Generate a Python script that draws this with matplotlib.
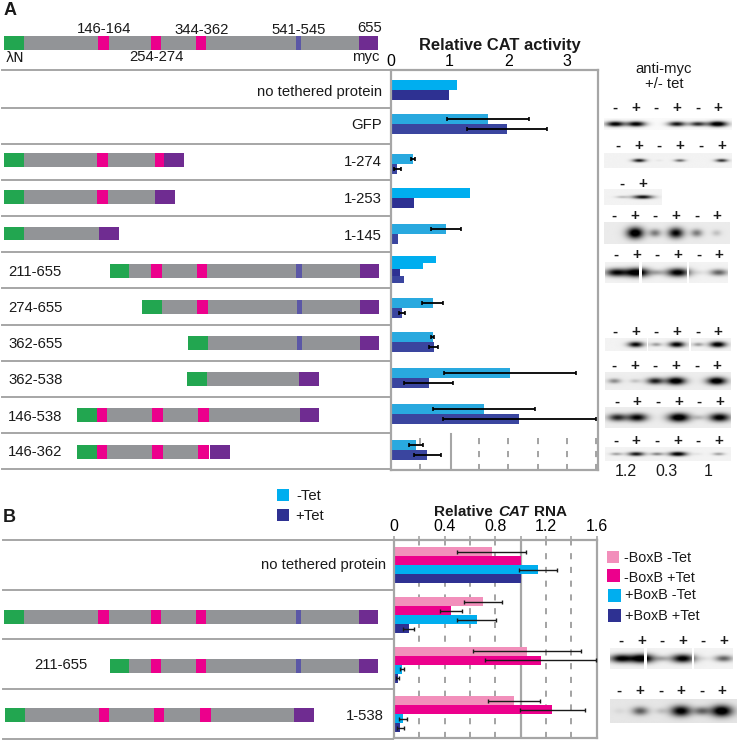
import numpy as np
import matplotlib
matplotlib.use("Agg")
import matplotlib.pyplot as plt
from matplotlib.patches import Rectangle

plt.rcParams['font.family'] = ['Liberation Sans', 'DejaVu Sans']

# panel A data, one value per row (-Tet / +Tet)
a_minus = [1.12, 1.66, 0.375, 1.35, 0.94, 0.71, 0.71, 2.03, 1.59, 0.43]
a_plus = [0.99, 1.98, 0.11, 0.39, 0.12, 0.19, 0.73, 0.64, 2.19, 0.62]
a_minus_err = [0, 0.70, 0.03, 0, 0.26, 0.18, 0.026, 1.125, 0.87, 0.12]
a_plus_err = [0, 0.68, 0.06, 0, 0, 0.055, 0.074, 0.41, 1.31, 0.23]
# the 211-655 row has two steps for each colour and no error bars
a_row6_minus = [0.77, 0.55]
a_row6_plus = [0.15, 0.22]

# panel B data
b_pink = [0.77, 0.705, 1.05, 0.945]
b_magenta = [1.0, 0.45, 1.158, 1.25]
b_cyan = [1.137, 0.655, 0.06, 0.07]
b_navy = [1.0, 0.116, 0.03, 0.05]
b_pink_err = [0.27, 0.15, 0.426, 0.205]
b_magenta_err = [0, 0.084, 0.437, 0.255]
b_cyan_err = [0.147, 0.154, 0.016, 0.029]
b_navy_err = [0, 0.045, 0.012, 0.028]

# blot band strengths per lane
blot1 = [0.9, 0.9, 0, 0.8, 0.7, 1.0]
blot2 = [0, 0.8, 0.05, 0.5, 0, 0.7]
blot3 = [0.2, 0.85]
blot4 = [0, 1.0, 0.4, 0.85, 0.4, 0.15]
blot5 = [0.8, 1.0, 0.2, 0.9, 0.05, 0.5]
blot6 = [0, 0.85, 0.3, 0.9, 0.3, 0.95]
blot7 = [0.35, 0.15, 0.75, 1.0, 0, 1.0]
blot8 = [0.7, 0.85, 0, 1.0, 0.15, 0.9]
blot9 = [0.3, 0.8, 0.4, 0.95, 0.05, 0.3]
blotb1 = [0.85, 1.0, 0.2, 0.9, 0.05, 0.5]
blotb2 = [0.05, 0.5, 0.12, 0.9, 0.45, 1.0]

blot_ratios = ["1.2", "0.3", "1"]

# layout in picture pixels from here on
WHITE_W, WHITE_H = 740, 744
cyan, cyan2 = "#00AEEF", "#29A9DF"
navy, navy2 = "#2E3192", "#3A459F"
pink, magenta = "#F28FBB", "#EC008C"
green, grey, blue, purple = "#22A650", "#929497", "#5B57A6", "#6F2C91"
line_grey = "#A6A6A6"
seg_col = {"g": green, "y": grey, "m": magenta, "b": blue, "p": purple}

fig = plt.figure(figsize=(7.4, 7.44), dpi=100)


def place(left, right, top, bottom):
    return [left / WHITE_W, 1 - bottom / WHITE_H, (right - left) / WHITE_W, (bottom - top) / WHITE_H]


def frame(ax):
    for s in ax.spines.values():
        s.set_color(line_grey)
        s.set_linewidth(1.6)
    ax.xaxis.tick_top()
    ax.set_yticks([])


# panel A bars
axa = fig.add_axes(place(391, 598, 70, 470))
axa.set_xlim(0, 3.53)
axa.set_ylim(470, 70)
a_mid = [90, 124, 164, 198, 234, 308, 342, 378, 414, 450]
a_cols = [(cyan, navy), (cyan2, navy2), (cyan2, navy2), (cyan, navy), (cyan2, navy2),
          (cyan2, navy2), (cyan2, navy2), (cyan2, navy2), (cyan2, navy2), (cyan2, navy2)]
ekw = dict(ecolor="black", elinewidth=1.3, capsize=1.5, capthick=1.2)
for x in [0.5, 1.5, 2, 2.5, 3, 3.5]:
    axa.plot([x, x], [438, 470], color="#8A8A8A", lw=1.1, dashes=(4, 4.5), zorder=1)
axa.plot([1.02, 1.02], [434, 470], color=line_grey, lw=1.5, zorder=1)
for i, y in enumerate(a_mid):
    c1, c2 = a_cols[i]
    axa.barh(y - 5, a_minus[i], 10, color=c1, zorder=2)
    axa.barh(y + 5, a_plus[i], 10, color=c2, zorder=2)
    if a_minus_err[i] > 0:
        axa.errorbar(a_minus[i], y - 5, xerr=a_minus_err[i], zorder=3, **ekw)
    if a_plus_err[i] > 0:
        axa.errorbar(a_plus[i], y + 5, xerr=a_plus_err[i], zorder=3, **ekw)
axa.barh([259.7, 266.3], a_row6_minus, [7.3, 6], color=cyan, zorder=2)
axa.barh([272.7, 279.7], a_row6_plus, [6.7, 7.3], color=[navy, navy2], zorder=2)
axa.set_xticks([0, 1, 2, 3])
axa.tick_params(axis="x", length=0, pad=1, labelsize=11.5)
frame(axa)

# panel B bars
axb = fig.add_axes(place(394, 596.7, 540, 738))
axb.set_xlim(0, 1.6)
axb.set_ylim(738, 540)
b_top = [547.3, 597, 646.7, 696.3]
b_series = [(b_pink, b_pink_err, pink), (b_magenta, b_magenta_err, magenta),
            (b_cyan, b_cyan_err, cyan), (b_navy, b_navy_err, navy)]
ekw_b = dict(ecolor="#1A1A1A", elinewidth=1.0, capsize=1.5, capthick=1.0)
for x in [0.2, 0.4, 0.6, 0.8, 1.2, 1.4]:
    axb.axvline(x, color="#8A8A8A", lw=1.1, dashes=(4, 5), zorder=1)
axb.axvline(1.0, color=line_grey, lw=1.6, zorder=1)
for k, (vals, errs, col) in enumerate(b_series):
    for i, top in enumerate(b_top):
        y = top + 4.5 + k * 9
        axb.barh(y, vals[i], 9, color=col, zorder=2)
        if errs[i] > 0:
            axb.errorbar(vals[i], y, xerr=errs[i], zorder=3, **ekw_b)
axb.set_xticks([0, 0.2, 0.4, 0.6, 0.8, 1.0, 1.2, 1.4, 1.6])
axb.set_xticklabels(["0", "", "0.4", "", "0.8", "", "1.2", "", "1.6"])
axb.tick_params(axis="x", length=3, width=1.2, color=line_grey, pad=1, labelsize=11.5)
frame(axb)

# overlay for everything drawn in picture pixels
ov = fig.add_axes([0, 0, 1, 1], zorder=5)
ov.patch.set_alpha(0)
ov.axis("off")


def txt(x, y, s, size=10.7, ha="center", **kw):
    ov.text(x, y + 0.8, s, fontsize=size, ha=ha, va="center", color="#1A1A1A", **kw)


def box(x0, x1, y0, y1, col):
    ov.add_patch(Rectangle((x0, y0), x1 - x0, y1 - y0, color=col, lw=0))


# protein schematics: row top, then pieces of (colour, start, end)
constructs = [
    (36, [("g", 4, 24), ("y", 24, 359), ("m", 98.3, 108.7), ("m", 150.7, 161), ("m", 196, 206.3), ("b", 296, 301), ("p", 359, 378)]),
    (153.3, [("g", 4, 24), ("y", 24, 154.7), ("m", 97.3, 108), ("m", 154.7, 164.3), ("p", 164.3, 184)]),
    (190, [("g", 4, 24.3), ("y", 24.3, 155.3), ("m", 97.3, 108), ("p", 155.3, 175.3)]),
    (226.7, [("g", 4, 24.3), ("y", 24.3, 99), ("p", 99, 118.7)]),
    (264, [("g", 110.3, 129.3), ("y", 129.3, 359.7), ("m", 151, 161.7), ("m", 196.7, 207), ("b", 296.3, 301.7), ("p", 359.7, 378.7)]),
    (300.3, [("g", 142, 161.7), ("y", 161.7, 360), ("m", 197, 207.7), ("b", 297, 302.3), ("p", 360, 379.3)]),
    (336.3, [("g", 188.3, 208), ("y", 208, 360), ("b", 297, 302.3), ("p", 360, 379.3)]),
    (372, [("g", 187, 207), ("y", 207, 298.7), ("p", 298.7, 318.7)]),
    (408.3, [("g", 77, 97), ("y", 97, 299.7), ("m", 97, 107.3), ("m", 152, 162.7), ("m", 198.3, 209), ("p", 299.7, 319.3)]),
    (445, [("g", 77, 97), ("y", 97, 198.3), ("m", 97, 107.3), ("m", 152, 162.7), ("m", 198.3, 209), ("p", 210, 230)]),
    (610.3, [("g", 4, 24), ("y", 24, 359), ("m", 98.3, 108.7), ("m", 150.7, 161), ("m", 196, 206.3), ("b", 296, 301), ("p", 359, 378)]),
    (659.3, [("g", 109.7, 129), ("y", 129, 359), ("m", 150.7, 161), ("m", 196, 206.3), ("b", 296, 301), ("p", 359, 378)]),
    (708.3, [("g", 5, 25), ("y", 25, 293.7), ("m", 98.7, 109.3), ("m", 154, 164.3), ("m", 200, 210.7), ("p", 293.7, 313.7)]),
]
for top, pieces in constructs:
    for col, x0, x1 in pieces:
        box(x0, x1, top, top + 13.5, seg_col[col])

# row separators
for y in [70, 108, 144, 180, 216, 252, 288, 325, 361, 397, 433, 469]:
    ov.plot([2, 390], [y, y], color=line_grey, lw=1.4)
for y in [540, 590, 639, 689, 739]:
    ov.plot([3, 393], [y, y], color=line_grey, lw=1.4)

# texts of the left part
txt(10, 10, "A", size=13, fontweight="bold")
txt(9, 517, "B", size=13, fontweight="bold")
txt(104, 28, "146-164")
txt(202, 29, "344-362")
txt(299, 29, "541-545")
txt(370, 27, "655")
txt(156, 56, "254-274")
txt(15, 57, "λN", family=["DejaVu Sans"], size=10)
txt(366, 56, "myc")
for y, s in [(91, "no tethered protein"), (124, "GFP"), (161, "1-274"), (198, "1-253"), (235, "1-145")]:
    txt(382, y, s, ha="right")
for y, s in [(271, "211-655"), (307, "274-655"), (343, "362-655"), (379, "362-538"), (416, "146-538"), (451, "146-362")]:
    txt(8, y, s, ha="left")
txt(386, 564, "no tethered protein", ha="right")
txt(34, 664, "211-655", ha="left")
txt(384, 715, "1-538", ha="right")

# legends
box(277, 289, 489, 500.5, cyan)
box(277, 289, 509, 521, navy)
txt(296, 495, "-Tet", ha="left")
txt(295, 515, "+Tet", ha="left")
box(606.7, 619.3, 551, 563, pink)
box(607.3, 620, 569.3, 581.7, magenta)
box(608, 620.7, 589.3, 601.7, cyan)
box(608.3, 621, 609.3, 621.7, navy)
txt(624, 557.7, "-BoxB -Tet", size=10.4, ha="left")
txt(624, 576.7, "-BoxB +Tet", size=10.4, ha="left")
txt(624.7, 594, "+BoxB -Tet", size=10.4, ha="left")
txt(625, 615, "+BoxB +Tet", size=10.4, ha="left")

# titles
txt(500, 45, "Relative CAT activity", size=11.9, fontweight="bold")
txt(434, 511.5, "Relative", size=11, ha="left", fontweight="bold")
txt(498, 511.5, "CAT", size=11, ha="left", fontweight="bold", style="italic")
txt(534, 511.5, "RNA", size=11, ha="left", fontweight="bold")
txt(664, 68, "anti-myc", size=10.7)
txt(664, 83, "+/- tet", size=10.7)


def blot(strength, lanes, parts, top, bottom, sign_y, bg=0.95, sx=7.0, sy=2.4):
    """Lanes are the x of the -/+ signs, parts the (left, right) of each strip."""
    for i, lane in enumerate(lanes):
        txt(lane, sign_y, "-" if i % 2 == 0 else "+", size=11, fontweight="bold")
    for left, right in parts:
        xs = np.arange(left, right + 0.5, 1.0)
        ys = np.arange(top, bottom + 0.5, 1.0)
        xx, yy = np.meshgrid(xs, ys)
        dark = np.zeros_like(xx, dtype=float)
        for lane, s in zip(lanes, strength):
            w = sx * (0.6 + 0.6 * s)
            h = sy * (0.6 + 0.7 * s)
            dark += 1.2 * s * np.exp(-((xx - lane) / w) ** 2 - ((yy - (top + bottom) / 2) / h) ** 2)
        img = bg * (1 - np.clip(dark, 0, 1))
        ov.imshow(img, cmap="gray", vmin=0, vmax=1, extent=(left, right, bottom, top),
                  aspect="auto", interpolation="bilinear", zorder=1)


lanes_a = [615, 636, 656, 677, 698, 718]
blot(blot1, lanes_a, [(604, 732)], 118, 130, 107, bg=0.98, sx=8, sy=2.2)
blot(blot2, [618, 639, 659, 680, 701, 722], [(604, 732)], 153, 168, 145, sx=6, sy=1.5)
blot(blot3, [622, 643], [(604, 662)], 189, 205, 183, sx=9, sy=1.6)
blot(blot4, [614, 635, 655, 676, 697, 717], [(604, 730)], 222, 244, 215, bg=0.92, sx=7, sy=4.5)
blot(blot5, [616, 637, 657, 678, 699, 719], [(605, 639), (642, 687), (689, 728)], 262, 283, 254, sx=10, sy=3.5)
blot(blot6, [615, 636, 656, 677, 698, 718], [(605, 647), (648, 689), (691, 731)], 338, 351, 331, sx=7, sy=2.4)
blot(blot7, [614, 635, 655, 676, 697, 717], [(605, 731)], 372, 390, 365, bg=0.93, sx=8, sy=3)
blot(blot8, [617, 637, 658, 679, 699, 720], [(605, 731)], 407, 428, 401, bg=0.93, sx=9, sy=3.5)
blot(blot9, [616, 636, 657, 678, 698, 719], [(605, 731)], 447, 461, 440, sx=7.5, sy=1.8)
blot(blotb1, [621, 642, 662, 683, 703, 724], [(610, 644), (647, 692), (694, 733)], 648, 669, 640, sx=10, sy=3.5)
blot(blotb2, [619, 640, 661, 681, 702, 722], [(610, 737)], 699, 723, 690, bg=0.9, sx=9, sy=4.5)

for x, s in zip([626, 667, 708], blot_ratios):
    txt(x, 471, s, size=11.5)

ov.set_xlim(0, WHITE_W)
ov.set_ylim(WHITE_H, 0)

fig.savefig("out.png", dpi=100, facecolor="white")
